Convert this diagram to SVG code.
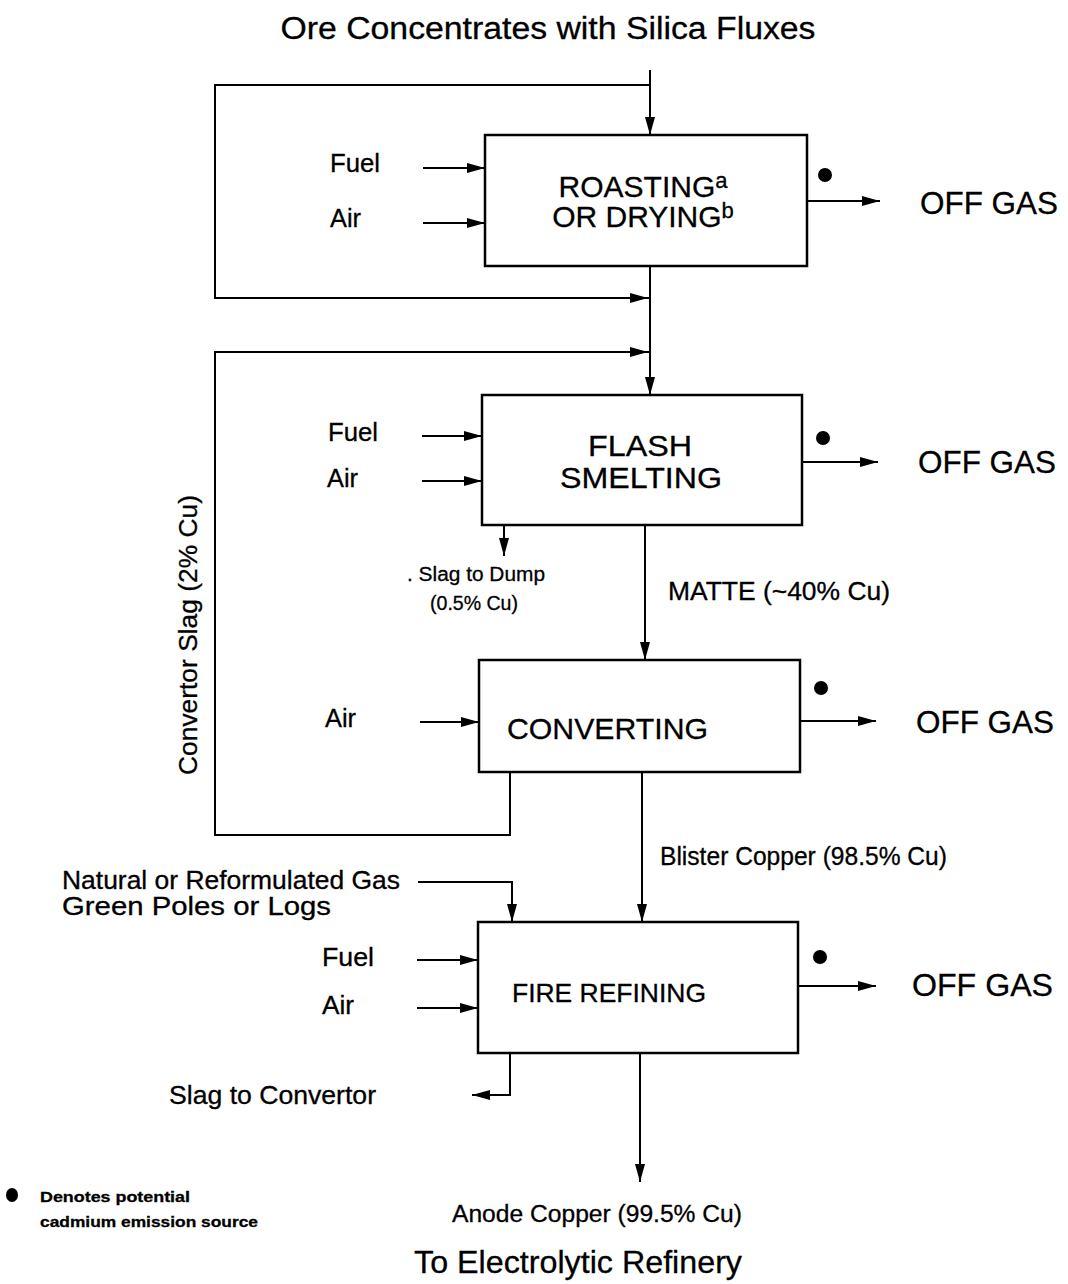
<svg xmlns="http://www.w3.org/2000/svg" width="1068" height="1284" viewBox="0 0 1068 1284">
<style>
text{font-family:"Liberation Sans",Arial,sans-serif;fill:#000;stroke:#000;stroke-width:0.3}
.box{fill:#fff;stroke:#000;stroke-width:2.5}
.ln{fill:none;stroke:#000;stroke-width:2}
.big{font-size:30px}
.lbl{font-size:25px}
.gas{font-size:32px}
.sm{font-size:20px}
</style>
<defs>
<marker id="ah" viewBox="0 0 18 11" refX="18" refY="5.5" markerWidth="18" markerHeight="11" markerUnits="userSpaceOnUse" orient="auto">
<path d="M0,0.5 L18,5.5 L0,10.5 Z" fill="#000"/>
</marker>
</defs>
<rect width="1068" height="1284" fill="#fff"/>
<text x="548" y="39" font-size="31" text-anchor="middle" textLength="535" lengthAdjust="spacingAndGlyphs">Ore Concentrates with Silica Fluxes</text>
<g id="connectors">
<path class="ln" d="M650,70 V135" marker-end="url(#ah)"/>
<path class="ln" d="M650,85 H215 V298 H650"/>
<path class="ln" d="M600,298 H648" marker-end="url(#ah)"/>
<path class="ln" d="M650,266 V395" marker-end="url(#ah)"/>
<path class="ln" d="M510,772 V835 H215 V352 H650"/>
<path class="ln" d="M600,352 H648" marker-end="url(#ah)"/>
<path class="ln" d="M423,168 H485" marker-end="url(#ah)"/>
<path class="ln" d="M423,223 H485" marker-end="url(#ah)"/>
<path class="ln" d="M807,201 H880" marker-end="url(#ah)"/>
<path class="ln" d="M422,436 H482" marker-end="url(#ah)"/>
<path class="ln" d="M422,481 H482" marker-end="url(#ah)"/>
<path class="ln" d="M802,462 H878" marker-end="url(#ah)"/>
<path class="ln" d="M504,525 V556" marker-end="url(#ah)"/>
<path class="ln" d="M645,525 V660" marker-end="url(#ah)"/>
<path class="ln" d="M420,722 H479" marker-end="url(#ah)"/>
<path class="ln" d="M800,721 H876" marker-end="url(#ah)"/>
<path class="ln" d="M642,772 V922" marker-end="url(#ah)"/>
<path class="ln" d="M418,882 H512 V922" marker-end="url(#ah)"/>
<path class="ln" d="M417,960 H478" marker-end="url(#ah)"/>
<path class="ln" d="M417,1008 H478" marker-end="url(#ah)"/>
<path class="ln" d="M798,986 H876" marker-end="url(#ah)"/>
<path class="ln" d="M510,1053 V1095 H472" marker-end="url(#ah)"/>
<path class="ln" d="M640,1053 V1182" marker-end="url(#ah)"/>
</g>
<g id="roasting">
<rect class="box" x="485" y="135" width="322" height="131"/>
<text class="big" x="643" y="197" text-anchor="middle">ROASTING<tspan font-size="22" dy="-9">a</tspan></text>
<text class="big" x="643" y="227" text-anchor="middle">OR DRYING<tspan font-size="22" dy="-9">b</tspan></text>
<text class="lbl" x="330" y="172" textLength="50" lengthAdjust="spacingAndGlyphs">Fuel</text>
<text class="lbl" x="330" y="227" textLength="31" lengthAdjust="spacingAndGlyphs">Air</text>
<circle cx="825" cy="175" r="7"/>
<text class="gas" x="920" y="214" textLength="138" lengthAdjust="spacingAndGlyphs">OFF GAS</text>
</g>
<g id="flash">
<rect class="box" x="482" y="395" width="320" height="130"/>
<text class="big" x="640" y="456" text-anchor="middle" textLength="104" lengthAdjust="spacingAndGlyphs">FLASH</text>
<text class="big" x="641" y="488" text-anchor="middle" textLength="162" lengthAdjust="spacingAndGlyphs">SMELTING</text>
<text class="lbl" x="328" y="441" textLength="50" lengthAdjust="spacingAndGlyphs">Fuel</text>
<text class="lbl" x="327" y="487" textLength="31" lengthAdjust="spacingAndGlyphs">Air</text>
<circle cx="823" cy="438" r="7"/>
<text class="gas" x="918" y="473" textLength="138" lengthAdjust="spacingAndGlyphs">OFF GAS</text>
<text class="sm" x="407" y="581" textLength="138" lengthAdjust="spacingAndGlyphs">. Slag to Dump</text>
<text class="sm" x="474" y="610" text-anchor="middle" textLength="88" lengthAdjust="spacingAndGlyphs">(0.5% Cu)</text>
<text class="lbl" x="668" y="600" textLength="222" lengthAdjust="spacingAndGlyphs">MATTE (~40% Cu)</text>
</g>
<g id="converting">
<rect class="box" x="479" y="660" width="321" height="112"/>
<text class="big" x="507" y="739" textLength="201" lengthAdjust="spacingAndGlyphs">CONVERTING</text>
<text class="lbl" x="325" y="727" textLength="31" lengthAdjust="spacingAndGlyphs">Air</text>
<circle cx="821" cy="688" r="7"/>
<text class="gas" x="916" y="733" textLength="138" lengthAdjust="spacingAndGlyphs">OFF GAS</text>
<text class="lbl" transform="translate(197,635) rotate(-90)" text-anchor="middle" textLength="280" lengthAdjust="spacingAndGlyphs">Convertor Slag (2% Cu)</text>
<text class="lbl" x="660" y="865" textLength="287" lengthAdjust="spacingAndGlyphs">Blister Copper (98.5% Cu)</text>
</g>
<g id="fire">
<rect class="box" x="478" y="922" width="320" height="131"/>
<text class="lbl" x="512" y="1002" textLength="194" lengthAdjust="spacingAndGlyphs">FIRE REFINING</text>
<text class="lbl" x="62" y="889" textLength="338" lengthAdjust="spacingAndGlyphs">Natural or Reformulated Gas</text>
<text class="lbl" x="62" y="915" textLength="269" lengthAdjust="spacingAndGlyphs">Green Poles or Logs</text>
<text class="lbl" x="322" y="966" textLength="52" lengthAdjust="spacingAndGlyphs">Fuel</text>
<text class="lbl" x="322" y="1014" textLength="32" lengthAdjust="spacingAndGlyphs">Air</text>
<circle cx="820" cy="957" r="7"/>
<text class="gas" x="912" y="996" textLength="141" lengthAdjust="spacingAndGlyphs">OFF GAS</text>
<text class="lbl" x="169" y="1104" textLength="207" lengthAdjust="spacingAndGlyphs">Slag to Convertor</text>
<text x="597" y="1222" font-size="23" text-anchor="middle" textLength="290" lengthAdjust="spacingAndGlyphs">Anode Copper (99.5% Cu)</text>
<text x="578" y="1273" font-size="32" text-anchor="middle" textLength="328" lengthAdjust="spacingAndGlyphs">To Electrolytic Refinery</text>
</g>
<g id="legend">
<ellipse cx="12" cy="1195" rx="6" ry="7"/>
<text x="40" y="1202" font-size="15" font-weight="bold" textLength="150" lengthAdjust="spacingAndGlyphs">Denotes potential</text>
<text x="40" y="1227" font-size="15" font-weight="bold" textLength="218" lengthAdjust="spacingAndGlyphs">cadmium emission source</text>
</g>
</svg>
